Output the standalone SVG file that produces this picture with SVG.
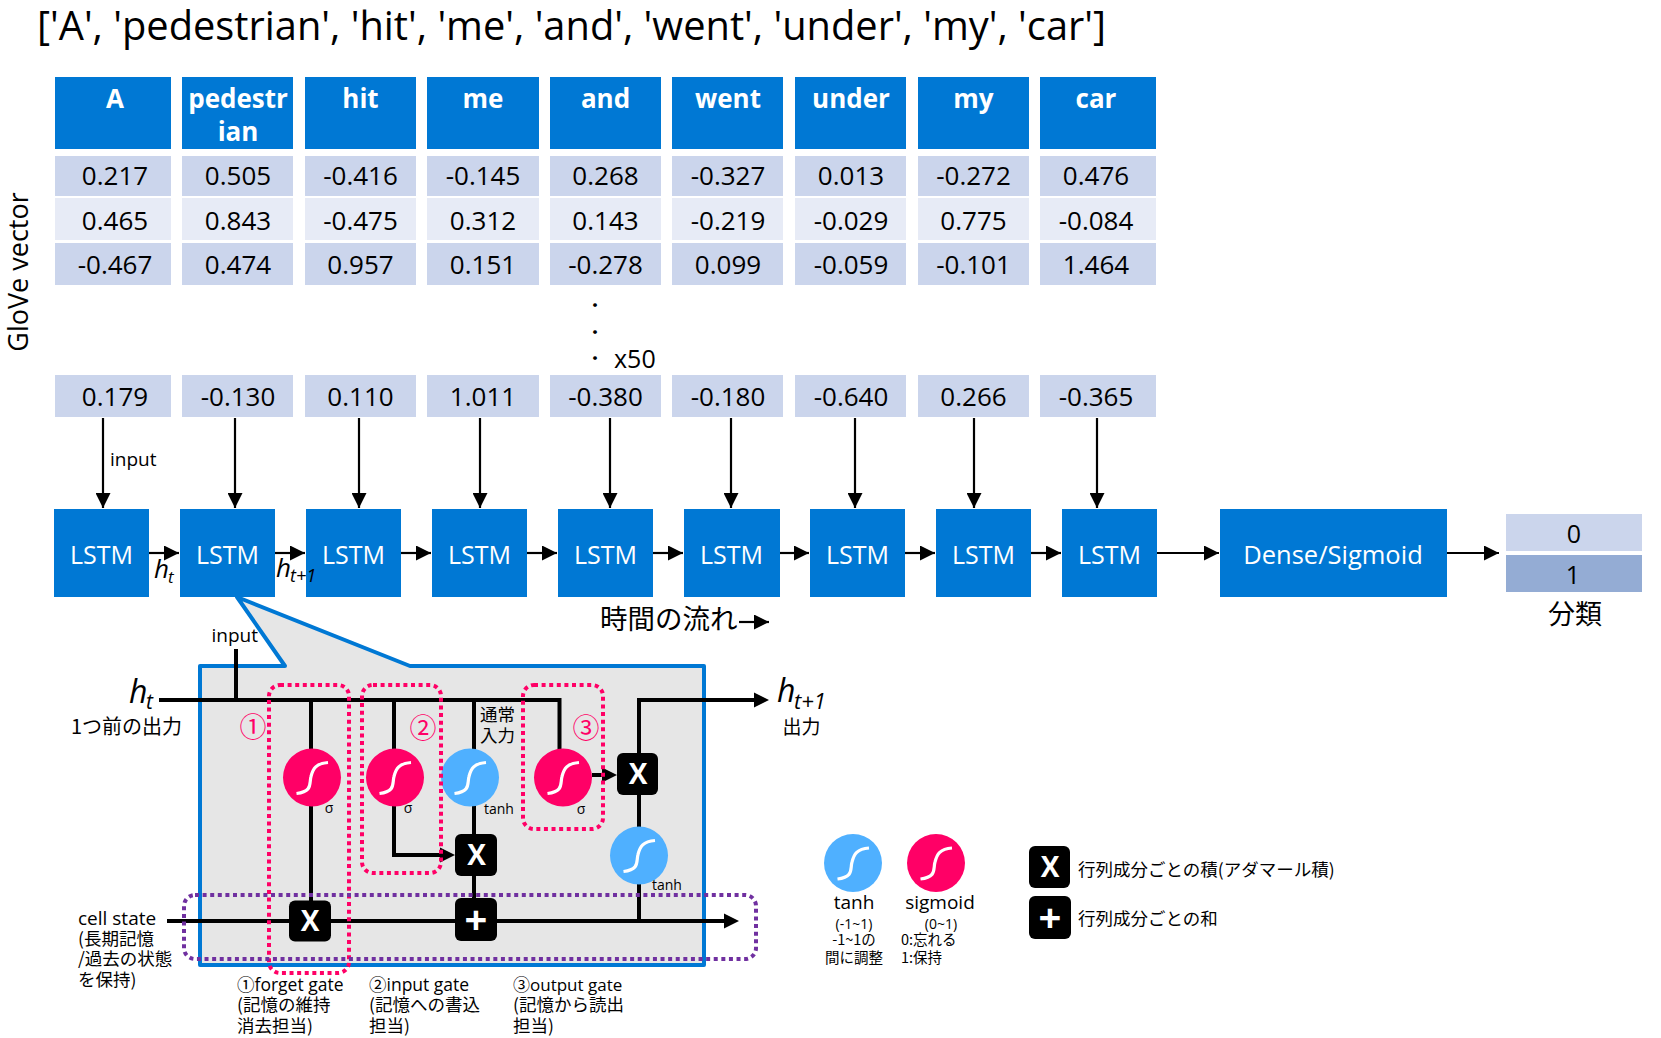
<svg xmlns="http://www.w3.org/2000/svg" width="1661" height="1038" viewBox="0 0 1661 1038">
<style>
text{font-family:"Open Sans","Noto Sans CJK JP",sans-serif;fill:#000}
.jp{font-family:"Noto Sans CJK JP",sans-serif}
.m{text-anchor:middle}
.hd{fill:#0078D4}
.r1{fill:#CBD5EC}
.r2{fill:#E7EBF6}
.ht{font-size:26px;font-weight:700;fill:#fff;text-anchor:middle}
.v{font-size:26px;text-anchor:middle}
.l{font-size:25px;fill:#fff;text-anchor:middle}
.s{font-size:19px}
.c{font-size:17.5px}
.i{font-style:italic}
.thin{fill:none;stroke:#000;stroke-width:2.2}
.thick{fill:none;stroke:#000;stroke-width:4}
.pk{fill:none;stroke:#FF0066;stroke-width:4;stroke-dasharray:4 3.6}
.pu{fill:none;stroke:#7030A0;stroke-width:4;stroke-dasharray:4 3.6}
.sg{fill:#FF0066}
.tn{fill:#4FB0FF}
.cv{fill:none;stroke:#fff;stroke-width:3.2}
.bx{fill:#000}
.xt{font-size:28px;font-weight:700;fill:#fff;text-anchor:middle}
.pn{font-size:27px;fill:#FF0066;text-anchor:middle}
</style>
<defs>
<marker id="a" markerUnits="userSpaceOnUse" markerWidth="15" markerHeight="15" refX="15" refY="7.5" orient="auto"><path d="M0 0L15 7.5L0 15Z" fill="#000"/></marker>
<path id="sc" class="cv" d="M-15.500 16C1 14 -3 6 -1 -1C1 -9 4 -14 16 -15"/>
</defs>
<text x="37" y="40" font-size="40" textLength="1069" lengthAdjust="spacingAndGlyphs">['A', 'pedestrian', 'hit', 'me', 'and', 'went', 'under', 'my', 'car']</text>
<text transform="translate(28 272) rotate(-90)" class="m" font-size="27">GloVe vector</text>
<g id="col-A"><rect class="hd" x="55" y="77" width="116" height="72"/><text class="ht" x="115" y="108">A</text><rect class="r1" x="55" y="156" width="116" height="40"/><text class="v" x="115" y="185">0.217</text><rect class="r2" x="55" y="198" width="116" height="42"/><text class="v" x="115" y="230">0.465</text><rect class="r1" x="55" y="243" width="116" height="42"/><text class="v" x="115" y="274">-0.467</text><rect class="r1" x="55" y="375" width="116" height="42"/><text class="v" x="115" y="406">0.179</text></g>
<g id="col-pedestrian"><rect class="hd" x="182" y="77" width="111" height="72"/><text class="ht" x="238" y="108">pedestr</text><text class="ht" x="238" y="141">ian</text><rect class="r1" x="182" y="156" width="111" height="40"/><text class="v" x="238" y="185">0.505</text><rect class="r2" x="182" y="198" width="111" height="42"/><text class="v" x="238" y="230">0.843</text><rect class="r1" x="182" y="243" width="111" height="42"/><text class="v" x="238" y="274">0.474</text><rect class="r1" x="182" y="375" width="111" height="42"/><text class="v" x="238" y="406">-0.130</text></g>
<g id="col-hit"><rect class="hd" x="305" y="77" width="111" height="72"/><text class="ht" x="360.500" y="108">hit</text><rect class="r1" x="305" y="156" width="111" height="40"/><text class="v" x="360.500" y="185">-0.416</text><rect class="r2" x="305" y="198" width="111" height="42"/><text class="v" x="360.500" y="230">-0.475</text><rect class="r1" x="305" y="243" width="111" height="42"/><text class="v" x="360.500" y="274">0.957</text><rect class="r1" x="305" y="375" width="111" height="42"/><text class="v" x="360.500" y="406">0.110</text></g>
<g id="col-me"><rect class="hd" x="427" y="77" width="112" height="72"/><text class="ht" x="483" y="108">me</text><rect class="r1" x="427" y="156" width="112" height="40"/><text class="v" x="483" y="185">-0.145</text><rect class="r2" x="427" y="198" width="112" height="42"/><text class="v" x="483" y="230">0.312</text><rect class="r1" x="427" y="243" width="112" height="42"/><text class="v" x="483" y="274">0.151</text><rect class="r1" x="427" y="375" width="112" height="42"/><text class="v" x="483" y="406">1.011</text></g>
<g id="col-and"><rect class="hd" x="550" y="77" width="111" height="72"/><text class="ht" x="605.500" y="108">and</text><rect class="r1" x="550" y="156" width="111" height="40"/><text class="v" x="605.500" y="185">0.268</text><rect class="r2" x="550" y="198" width="111" height="42"/><text class="v" x="605.500" y="230">0.143</text><rect class="r1" x="550" y="243" width="111" height="42"/><text class="v" x="605.500" y="274">-0.278</text><rect class="r1" x="550" y="375" width="111" height="42"/><text class="v" x="605.500" y="406">-0.380</text></g>
<g id="col-went"><rect class="hd" x="672" y="77" width="111" height="72"/><text class="ht" x="728" y="108">went</text><rect class="r1" x="672" y="156" width="111" height="40"/><text class="v" x="728" y="185">-0.327</text><rect class="r2" x="672" y="198" width="111" height="42"/><text class="v" x="728" y="230">-0.219</text><rect class="r1" x="672" y="243" width="111" height="42"/><text class="v" x="728" y="274">0.099</text><rect class="r1" x="672" y="375" width="111" height="42"/><text class="v" x="728" y="406">-0.180</text></g>
<g id="col-under"><rect class="hd" x="795" y="77" width="111" height="72"/><text class="ht" x="851" y="108">under</text><rect class="r1" x="795" y="156" width="111" height="40"/><text class="v" x="851" y="185">0.013</text><rect class="r2" x="795" y="198" width="111" height="42"/><text class="v" x="851" y="230">-0.029</text><rect class="r1" x="795" y="243" width="111" height="42"/><text class="v" x="851" y="274">-0.059</text><rect class="r1" x="795" y="375" width="111" height="42"/><text class="v" x="851" y="406">-0.640</text></g>
<g id="col-my"><rect class="hd" x="918" y="77" width="111" height="72"/><text class="ht" x="973.500" y="108">my</text><rect class="r1" x="918" y="156" width="111" height="40"/><text class="v" x="973.500" y="185">-0.272</text><rect class="r2" x="918" y="198" width="111" height="42"/><text class="v" x="973.500" y="230">0.775</text><rect class="r1" x="918" y="243" width="111" height="42"/><text class="v" x="973.500" y="274">-0.101</text><rect class="r1" x="918" y="375" width="111" height="42"/><text class="v" x="973.500" y="406">0.266</text></g>
<g id="col-car"><rect class="hd" x="1040" y="77" width="116" height="72"/><text class="ht" x="1096" y="108">car</text><rect class="r1" x="1040" y="156" width="116" height="40"/><text class="v" x="1096" y="185">0.476</text><rect class="r2" x="1040" y="198" width="116" height="42"/><text class="v" x="1096" y="230">-0.084</text><rect class="r1" x="1040" y="243" width="116" height="42"/><text class="v" x="1096" y="274">1.464</text><rect class="r1" x="1040" y="375" width="116" height="42"/><text class="v" x="1096" y="406">-0.365</text></g>
<g id="ellipsis"><text class="jp m" x="595" y="312" font-size="18">・</text><text class="jp m" x="595" y="339" font-size="18">・</text><text class="jp m" x="595" y="365" font-size="18">・</text><text x="614" y="368" font-size="25">x50</text></g>
<g id="callout"><path d="M200 666H285L237 597L410 666H704V965H200Z" fill="#E6E6E6" stroke="#0078D4" stroke-width="4" stroke-linejoin="round"/></g>
<g id="connectors">
<path class="thin" marker-end="url(#a)" d="M103 418V508"/><path class="thin" marker-end="url(#a)" d="M235 418V508"/><path class="thin" marker-end="url(#a)" d="M359 418V508"/><path class="thin" marker-end="url(#a)" d="M480 418V508"/><path class="thin" marker-end="url(#a)" d="M610 418V508"/><path class="thin" marker-end="url(#a)" d="M731 418V508"/><path class="thin" marker-end="url(#a)" d="M855 418V508"/><path class="thin" marker-end="url(#a)" d="M974 418V508"/><path class="thin" marker-end="url(#a)" d="M1097 418V508"/>
<path class="thin" marker-end="url(#a)" d="M149 553H179"/><path class="thin" marker-end="url(#a)" d="M275 553H305"/><path class="thin" marker-end="url(#a)" d="M401 553H431"/><path class="thin" marker-end="url(#a)" d="M527 553H557"/><path class="thin" marker-end="url(#a)" d="M653 553H683"/><path class="thin" marker-end="url(#a)" d="M779 553H809"/><path class="thin" marker-end="url(#a)" d="M905 553H935"/><path class="thin" marker-end="url(#a)" d="M1031 553H1061"/><path class="thin" marker-end="url(#a)" d="M1157 553H1219"/><path class="thin" marker-end="url(#a)" d="M1447 553H1499"/>
<path class="thin" marker-end="url(#a)" d="M739 622H769"/>
<path class="thick" d="M159 700H559.500V750"/><path class="thick" d="M236 649V700"/><path class="thick" d="M311 700V901"/><path class="thick" d="M394 700V855H440"/><path d="M440 847.500L455 855L440 862.500Z"/><path class="thick" d="M474 700V898"/><path class="thick" d="M592 775H603"/><path d="M602 767.500L617 775L602 782.500Z"/><path class="thick" d="M639 921V700H755"/><path d="M754 692.500L769 700L754 707.500Z"/><path class="thick" d="M167 921H725"/><path d="M724 913.500L739 921L724 928.500Z"/>
</g>
<g id="LSTM-1"><rect class="hd" x="54" y="509" width="95" height="88"/><text class="l" x="101.500" y="564">LSTM</text></g>
<g id="LSTM-2"><rect class="hd" x="180" y="509" width="95" height="88"/><text class="l" x="227.500" y="564">LSTM</text></g>
<g id="LSTM-3"><rect class="hd" x="306" y="509" width="95" height="88"/><text class="l" x="353.500" y="564">LSTM</text></g>
<g id="LSTM-4"><rect class="hd" x="432" y="509" width="95" height="88"/><text class="l" x="479.500" y="564">LSTM</text></g>
<g id="LSTM-5"><rect class="hd" x="558" y="509" width="95" height="88"/><text class="l" x="605.500" y="564">LSTM</text></g>
<g id="LSTM-6"><rect class="hd" x="684" y="509" width="96" height="88"/><text class="l" x="731.500" y="564">LSTM</text></g>
<g id="LSTM-7"><rect class="hd" x="810" y="509" width="95" height="88"/><text class="l" x="857.500" y="564">LSTM</text></g>
<g id="LSTM-8"><rect class="hd" x="936" y="509" width="95" height="88"/><text class="l" x="983.500" y="564">LSTM</text></g>
<g id="LSTM-9"><rect class="hd" x="1062" y="509" width="95" height="88"/><text class="l" x="1109.500" y="564">LSTM</text></g>
<g id="dense"><rect class="hd" x="1220" y="509" width="227" height="88"/><text class="m" style="fill:#fff" font-size="25.500" x="1333" y="564">Dense/Sigmoid</text></g>
<g id="output"><rect class="r1" x="1506" y="514" width="136" height="37"/><text class="m" x="1574" y="543" font-size="25">0</text><rect x="1506" y="555" width="136" height="37" fill="#94ACD4"/><text class="m" x="1573" y="584" font-size="25">1</text><text class="jp m" x="1575" y="624" font-size="27">分類</text></g>
<text class="s" x="110" y="466">input</text>
<text class="i" x="154" y="578" font-size="26">h</text><text class="i" x="168" y="583" font-size="17">t</text>
<text class="i" x="276" y="577" font-size="26">h</text><text class="i" x="290" y="582" font-size="18">t+1</text>
<text class="jp" x="600" y="629" font-size="27.500">時間の流れ</text>
<text class="s" x="211.500" y="642">input</text>
<text class="i" x="129" y="703" font-size="32">h</text><text class="i" x="146" y="709" font-size="21">t</text>
<text class="jp" x="71" y="734" font-size="20">1つ前の出力</text>
<text class="i" x="777" y="702" font-size="32">h</text><text class="i" x="794" y="709" font-size="22">t+1</text>
<text class="jp s" x="782.500" y="734">出力</text>
<g id="sigma-1"><circle class="sg" cx="312" cy="777.500" r="29"/><use href="#sc" x="312" y="777.500"/><text x="329" y="813" font-size="14" class="m">σ</text></g>
<g id="sigma-2"><circle class="sg" cx="395" cy="777.500" r="29"/><use href="#sc" x="395" y="777.500"/><text x="408" y="813" font-size="14" class="m">σ</text></g>
<g id="tanh-1"><circle class="tn" cx="470" cy="777.500" r="29"/><use href="#sc" x="470" y="777.500"/><text x="484" y="814" font-size="14">tanh</text></g>
<g id="sigma-3"><circle class="sg" cx="563" cy="777.500" r="29"/><use href="#sc" x="563" y="777.500"/><text x="581" y="814" font-size="14" class="m">σ</text></g>
<g id="tanh-2"><circle class="tn" cx="639" cy="855.500" r="29"/><use href="#sc" x="639" y="855.500"/><text x="652" y="890" font-size="14">tanh</text></g>
<g id="op-x1"><rect class="bx" x="289" y="900.500" width="42" height="41" rx="6"/><text class="xt" x="310" y="931">X</text></g>
<g id="op-x2"><rect class="bx" x="455" y="834" width="42" height="42" rx="6"/><text class="xt" x="476.500" y="865">X</text></g>
<g id="op-x3"><rect class="bx" x="617" y="753" width="41" height="42" rx="6"/><text class="xt" x="638" y="784">X</text></g>
<g id="op-plus"><rect class="bx" x="455" y="898" width="42" height="43" rx="6"/><text class="xt" x="476" y="934" style="font-size:40px">+</text></g>
<g id="gate-1"><rect class="pk" x="269" y="685" width="80" height="288" rx="11"/><text class="pn jp" x="253" y="737">①</text></g>
<g id="gate-2"><rect class="pk" x="362" y="685" width="79" height="188" rx="11"/><text class="pn jp" x="423" y="738">②</text></g>
<g id="gate-3"><rect class="pk" x="523" y="685" width="80" height="144" rx="11"/><text class="pn jp" x="586" y="738">③</text></g>
<rect id="cell-band" class="pu" x="184" y="895" width="572" height="64" rx="11"/>
<text class="jp" x="480" y="721" font-size="17.500">通常</text><text class="jp" x="480" y="742" font-size="17.500">入力</text>
<g id="cell-label"><text x="78" y="925" font-size="19">cell state</text><text class="jp c" x="78" y="945">(長期記憶</text><text class="jp c" x="78" y="965">/過去の状態</text><text class="jp c" x="78" y="986">を保持)</text></g>
<g id="cap-1"><text class="c" x="237" y="991" font-size="17">①forget gate</text><text class="jp c" x="237" y="1011">(記憶の維持</text><text class="jp c" x="237" y="1032">消去担当)</text></g>
<g id="cap-2"><text class="c" x="369" y="991">②input gate</text><text class="jp c" x="369" y="1011">(記憶への書込</text><text class="jp c" x="369" y="1032">担当)</text></g>
<g id="cap-3"><text x="513" y="991" style="font-size:17px">③output gate</text><text class="jp c" x="513" y="1011">(記憶から読出</text><text class="jp c" x="513" y="1032">担当)</text></g>
<g id="legend-tanh"><circle class="tn" cx="853" cy="863" r="29"/><use href="#sc" x="853" y="863"/><text class="m" x="854" y="909" font-size="19">tanh</text><text class="m" x="854" y="929" font-size="14">(-1~1)</text><text class="jp m" x="854" y="945" font-size="14.500">-1~1の</text><text class="jp m" x="854" y="963" font-size="14.500">間に調整</text></g>
<g id="legend-sigmoid"><circle class="sg" cx="936" cy="863" r="29"/><use href="#sc" x="936" y="863"/><text class="m" x="940" y="909" font-size="19">sigmoid</text><text class="m" x="941" y="929" font-size="14">(0~1)</text><text class="jp" x="901" y="945" font-size="14.500">0:忘れる</text><text class="jp" x="901" y="963" font-size="14.500">1:保持</text></g>
<g id="legend-x"><rect class="bx" x="1029" y="846" width="41" height="42" rx="6"/><text class="xt" x="1050" y="877">X</text><text class="jp c" x="1078" y="876">行列成分ごとの積(アダマール積)</text></g>
<g id="legend-plus"><rect class="bx" x="1029" y="896" width="42" height="43" rx="6"/><text class="xt" x="1050" y="932" style="font-size:40px">+</text><text class="jp c" x="1078" y="925">行列成分ごとの和</text></g>
</svg>
